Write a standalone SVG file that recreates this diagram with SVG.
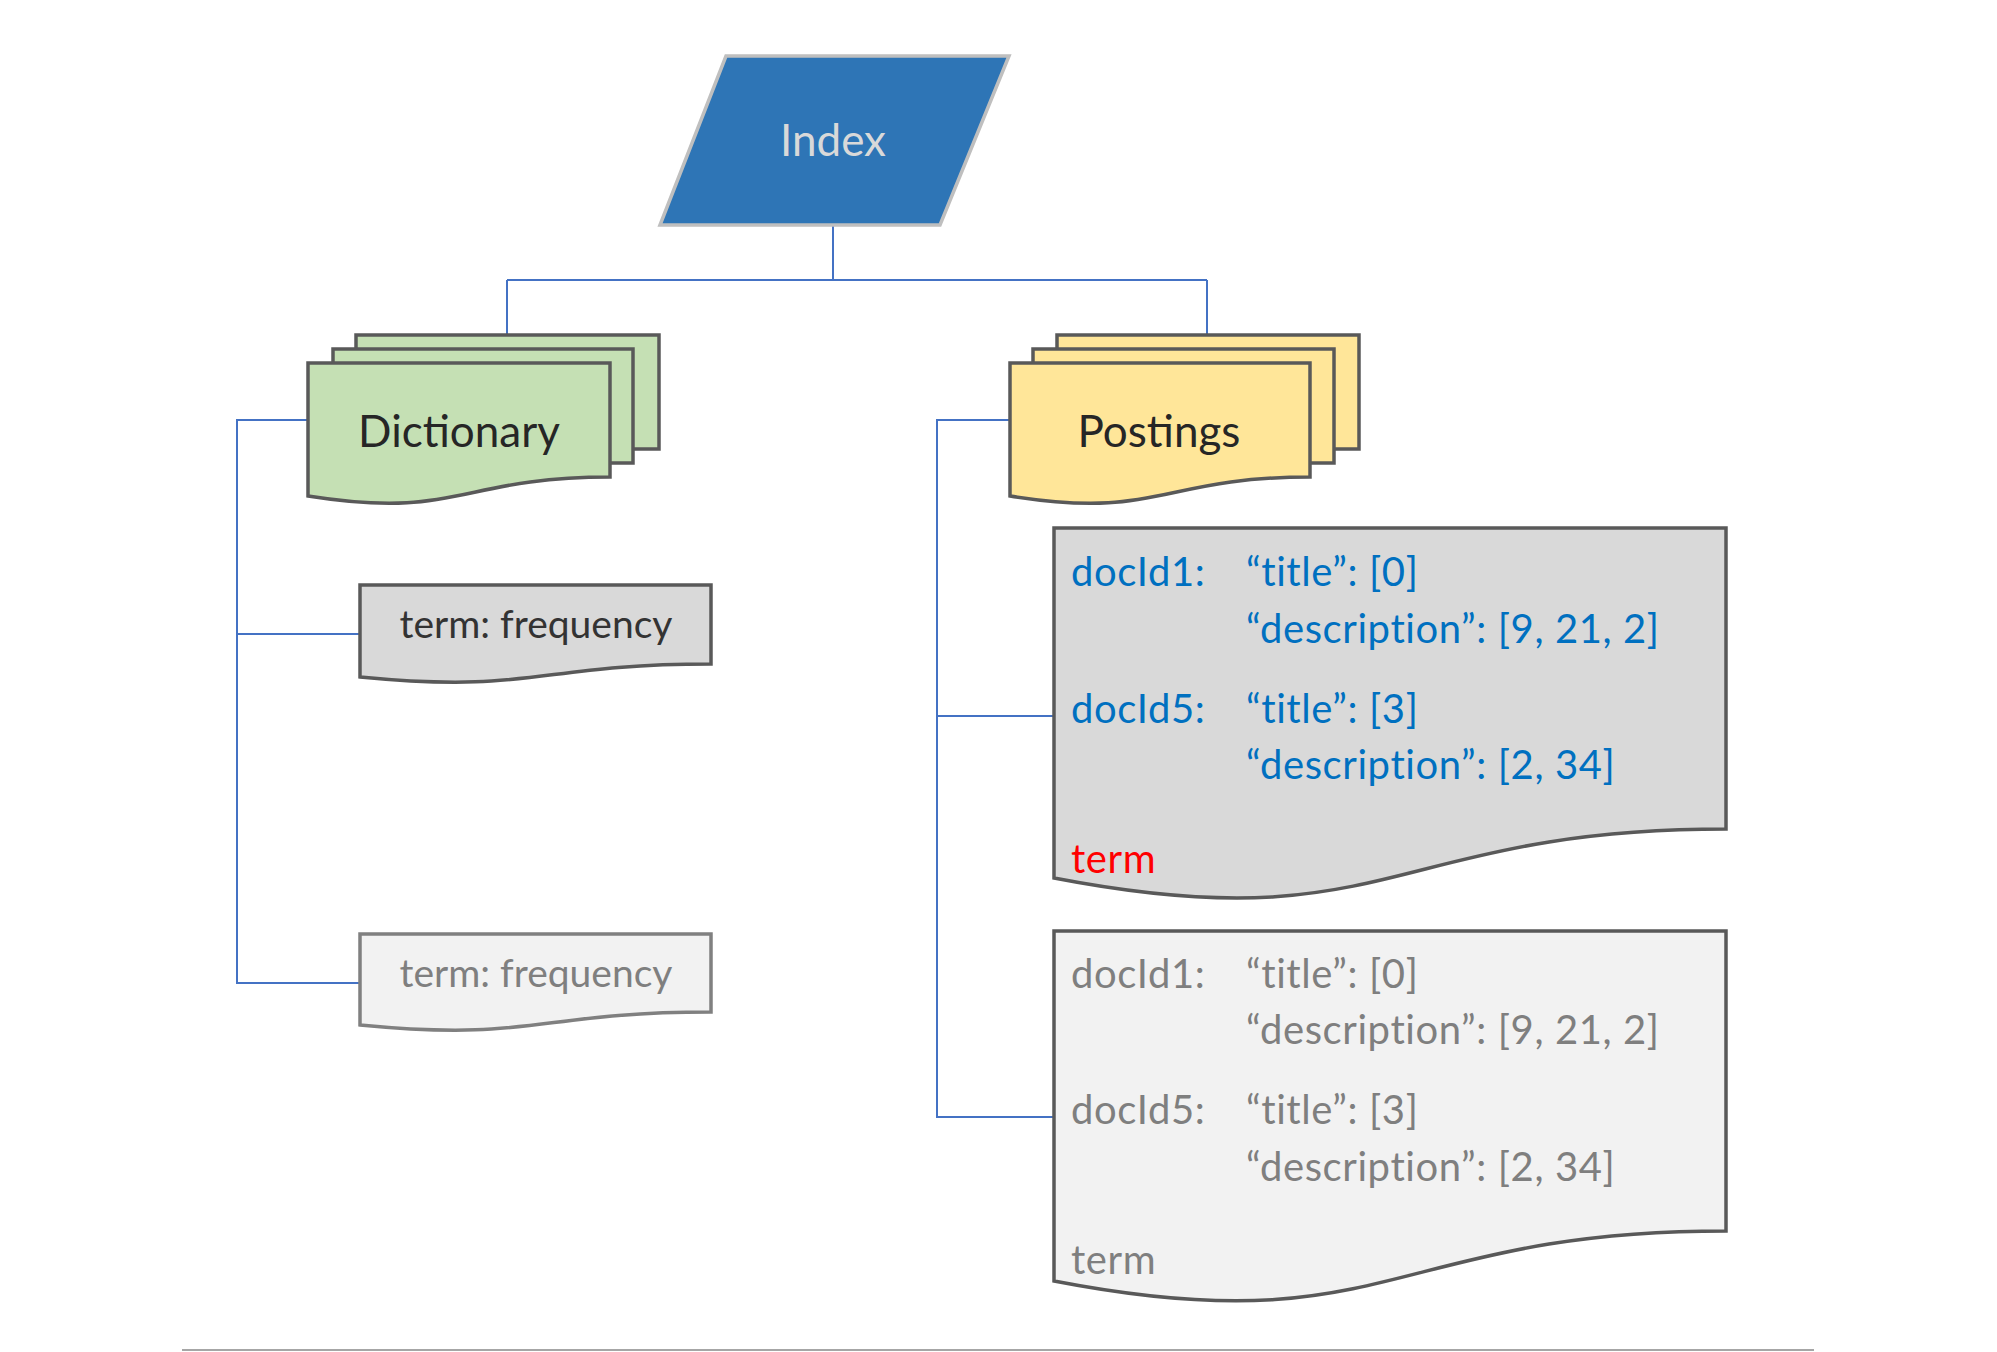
<svg xmlns="http://www.w3.org/2000/svg" width="1997" height="1352" viewBox="0 0 1997 1352">
<style>
.conn{fill:none;stroke:#4472C4;stroke-width:2}
.pg{stroke:#595959;stroke-width:3.5;stroke-linejoin:miter}
.green{fill:#C5E0B4}
.yellow{fill:#FFE699}
.t{font-family:Lato,"Liberation Sans",sans-serif}
.big{font-size:44px;fill:#262626}
.mid{font-size:39px}
.post{font-size:40px;letter-spacing:0.6px}
.blue{fill:#0070C0}
.gray{fill:#7F7F7F}
</style>
<rect width="1997" height="1352" fill="#FFFFFF"/>
<g id="connectors">
<path class="conn" d="M833,225 V280 M507,280 H1207 M507,280 V336 M1207,280 V336"/>
<path class="conn" d="M309,420 H237 V983 H361 M237,634 H361"/>
<path class="conn" d="M1011,420 H937 V1117 H1055 M937,716 H1055"/>
</g>
<g id="index">
<path d="M726,56 H1009 L940,225 H660 Z" fill="#2E75B6" stroke="#BFBFBF" stroke-width="3.5"/>
<text class="t" x="833" y="156" font-size="44" fill="#D9D9D9" text-anchor="middle">Index</text>
</g>
<g id="dictionary">
<rect class="pg green" x="356" y="335" width="303" height="114"/>
<rect class="pg green" x="333" y="349" width="300" height="114"/>
<path class="pg green" d="M308,363 H610 V477 C459,477 459,520 308,496 Z"/>
<text class="t big" x="459" y="447" text-anchor="middle">Dictionary</text>
</g>
<g id="postings">
<rect class="pg yellow" x="1057" y="335" width="302" height="114"/>
<rect class="pg yellow" x="1033" y="349" width="301" height="114"/>
<path class="pg yellow" d="M1010,363 H1310 V477 C1160,477 1160,520 1010,496 Z"/>
<text class="t big" x="1159" y="447" text-anchor="middle">Postings</text>
</g>
<g id="term-frequency-1">
<path class="pg" fill="#D9D9D9" d="M360,585 H711 V664 C535.5,664 535.5,694 360,677 Z"/>
<text class="t mid" x="536" y="638" text-anchor="middle" fill="#333333">term: frequency</text>
</g>
<g id="term-frequency-2">
<path d="M360,934 H711 V1012 C535.5,1012 535.5,1042 360,1025 Z" fill="#F2F2F2" stroke="#808080" stroke-width="3.5"/>
<text class="t mid gray" x="536" y="987" text-anchor="middle">term: frequency</text>
</g>
<g id="postings-list-1">
<path class="pg" fill="#D9D9D9" d="M1054,528 H1726 V829 C1390,829 1390,943 1054,878 Z"/>
<g class="t post blue">
<text x="1071" y="586">docId1:</text>
<text x="1246" y="586">“title”: [0]</text>
<text x="1246" y="643">“description”: [9, 21, 2]</text>
<text x="1071" y="723">docId5:</text>
<text x="1246" y="723">“title”: [3]</text>
<text x="1246" y="779">“description”: [2, 34]</text>
</g>
<text class="t post" x="1071" y="873" fill="#FF0000">term</text>
</g>
<g id="postings-list-2">
<path class="pg" fill="#F2F2F2" d="M1054,931 H1726 V1231 C1390,1231 1390,1346 1054,1281 Z"/>
<g class="t post gray">
<text x="1071" y="988">docId1:</text>
<text x="1246" y="988">“title”: [0]</text>
<text x="1246" y="1044">“description”: [9, 21, 2]</text>
<text x="1071" y="1124">docId5:</text>
<text x="1246" y="1124">“title”: [3]</text>
<text x="1246" y="1181">“description”: [2, 34]</text>
<text x="1071" y="1274">term</text>
</g>
</g>
<line x1="182" y1="1350" x2="1814" y2="1350" stroke="#A6A6A6" stroke-width="2"/>
</svg>
